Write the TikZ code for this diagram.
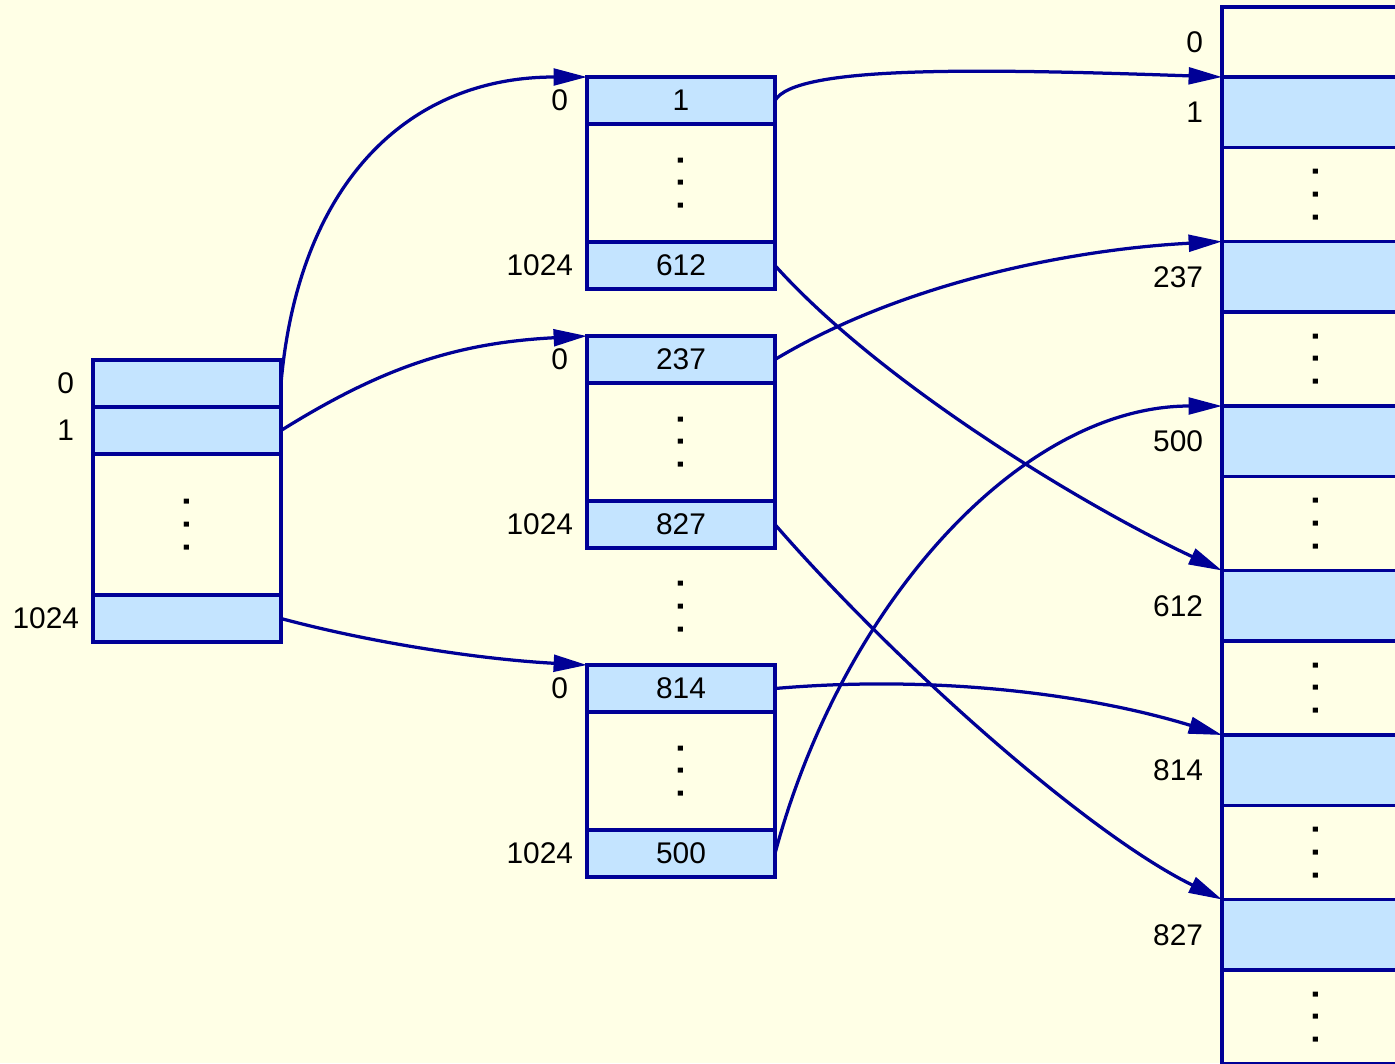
\documentclass[tikz,border=0pt]{standalone}
\usepackage{fontspec}
\setmainfont{Liberation Sans}
\usepackage{tikz}
\usetikzlibrary{positioning,arrows.meta}
\definecolor{memblue}{RGB}{0,0,150}
\definecolor{cellfill}{RGB}{196,228,255}
\definecolor{paper}{RGB}{255,255,230}
\newcommand{\dotcol}{\rotatebox{90}{.\kern7.4pt.\kern7.4pt.}}

\begin{document}
\begin{tikzpicture}[every node/.style={font=\fontsize{17}{20}\selectfont, inner sep=0pt, outer sep=0pt},
cell/.style={draw=memblue, line width=2pt, fill=cellfill, minimum width=3.76cm, minimum height=0.94cm},
tall/.style={minimum height=1.41cm},
blank/.style={cell, fill=paper},
dots/.style={font=\fontsize{20}{22}\selectfont\bfseries},
gap/.style={blank, dots},
idx/.style={anchor=east},
link/.style={draw=memblue, line width=1.85pt, -{Triangle[length=19pt, width=9.5pt]}}]
\path[use as bounding box, fill=paper] (0,0) rectangle (27.9,-21.26);
\clip (0,0) rectangle (27.9,-21.26);
% first level
\node[cell, anchor=north west] (L0) at (1.86,-7.20) {};
\node[cell, below=0pt of L0] (L1) {};
\node[gap, minimum height=2.82cm, below=0pt of L1] (Lg) {\dotcol};
\node[cell, below=0pt of Lg] (Ln) {};
\node[idx, left=3.8mm of L0] (L0i) {0};
\node[idx, left=3.8mm of L1] (L1i) {1};
\node[idx, left=2.8mm of Ln] (Lni) {1024};
% second level
\node[cell, anchor=north west] (A0) at (11.74,-1.54) {1};
\node[gap, minimum height=2.36cm, below=0pt of A0] (Ag) {\dotcol};
\node[cell, below=0pt of Ag] (An) {612};
\node[idx, left=3.8mm of A0] (A0i) {0};
\node[idx, left=2.8mm of An] (Ani) {1024};
\node[cell, anchor=north west] (B0) at (11.74,-6.72) {237};
\node[gap, minimum height=2.36cm, below=0pt of B0] (Bg) {\dotcol};
\node[cell, below=0pt of Bg] (Bn) {827};
\node[idx, left=3.8mm of B0] (B0i) {0};
\node[idx, left=2.8mm of Bn] (Bni) {1024};
\node[dots, minimum height=2.34cm, below=0pt of Bn] (BCg) {\dotcol};
\node[cell, anchor=north west] (C0) at (11.74,-13.30) {814};
\node[gap, minimum height=2.36cm, below=0pt of C0] (Cg) {\dotcol};
\node[cell, below=0pt of Cg] (Cn) {500};
\node[idx, left=3.8mm of C0] (C0i) {0};
\node[idx, left=2.8mm of Cn] (Cni) {1024};
% pages
\node[blank, minimum height=1.40cm, anchor=north west] (R0) at (24.44,-0.14) {};
\node[cell, tall, below=0pt of R0] (R1) {};
\node[gap, minimum height=1.88cm, below=0pt of R1] (Rg1) {\dotcol};
\node[cell, tall, below=0pt of Rg1] (R237) {};
\node[gap, minimum height=1.88cm, below=0pt of R237] (Rg2) {\dotcol};
\node[cell, tall, below=0pt of Rg2] (R500) {};
\node[gap, minimum height=1.88cm, below=0pt of R500] (Rg3) {\dotcol};
\node[cell, tall, below=0pt of Rg3] (R612) {};
\node[gap, minimum height=1.88cm, below=0pt of R612] (Rg4) {\dotcol};
\node[cell, tall, below=0pt of Rg4] (R814) {};
\node[gap, minimum height=1.88cm, below=0pt of R814] (Rg5) {\dotcol};
\node[cell, tall, below=0pt of Rg5] (R827) {};
\node[gap, minimum height=1.88cm, below=0pt of R827] (Rg6) {\dotcol};
\node[idx, left=3.8mm of R0] (R0i) {0};
\node[idx, left=3.8mm of R1] (R1i) {1};
\node[idx, left=3.8mm of R237] (R237i) {237};
\node[idx, left=3.8mm of R500] (R500i) {500};
\node[idx, left=3.8mm of R612] (R612i) {612};
\node[idx, left=3.8mm of R814] (R814i) {814};
\node[idx, left=3.8mm of R827] (R827i) {827};
% pointers
\draw[link] (L0.east) to[out=85, in=180, out distance=4cm, in distance=3.6cm] (A0.north west);
\draw[link] (L1.east) to[out=32, in=183, out distance=2.4cm, in distance=2.6cm] (B0.north west);
\draw[link] (Ln.east) to[out=-15, in=177, out distance=2cm, in distance=2cm] (C0.north west);
\draw[link] (A0.east) to[out=60, in=178, out distance=0.8cm, in distance=5cm] (R1.north west);
\draw[link] (An.east) to[out=-48, in=155, out distance=3.2cm, in distance=3cm] (R612.north west);
\draw[link] (B0.east) to[out=31, in=183, out distance=3cm, in distance=3cm] (R237.north west);
\draw[link] (Bn.east) to[out=-49, in=154, out distance=3.6cm, in distance=3cm] (R827.north west);
\draw[link] (C0.east) to[out=5, in=163, out distance=3cm, in distance=3cm] (R814.north west);
\draw[link] (Cn.east) to[out=75, in=180, out distance=5.2cm, in distance=4cm] (R500.north west);
\end{tikzpicture}
\end{document}
